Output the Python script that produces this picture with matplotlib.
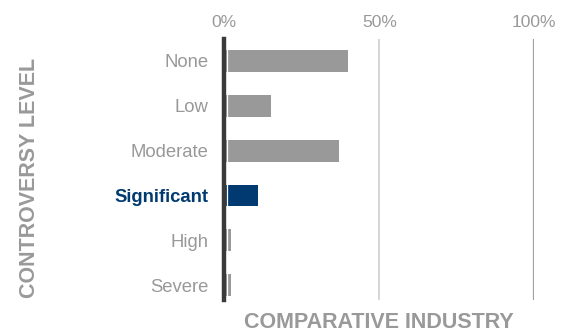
import matplotlib.pyplot as plt

plt.rcParams["font.family"] = ["Liberation Sans", "DejaVu Sans"]

# 数据
levels = ["None", "Low", "Moderate", "Significant", "High", "Severe"]
shares = [40, 15, 37, 11, 2, 2]
highlight = "Significant"
xticks = [0, 50, 100]
xtick_labels = ["0%", "50%", "100%"]

GRAY = "#999999"
NAVY = "#003a70"

fig = plt.figure(figsize=(5.72, 3.32), dpi=100)
ax = fig.add_axes([224.3 / 572, (332 - 300) / 332, 310 / 572, 261 / 332])

colors = [NAVY if lv == highlight else GRAY for lv in levels]
y = list(range(len(levels)))
ax.barh(y, shares, height=0.49, left=0, color=colors, zorder=2)

ax.set_xlim(0, 100)
ax.set_ylim(5.33, -0.49)

# 竖线
ax.axvline(50, color="#d0d0d0", lw=1.2, zorder=1)
ax.axvline(100, color="#a0a0a0", lw=1.6, zorder=1)
ax.axvline(0, color="#3a3a3a", lw=3.2, zorder=3, clip_on=False)
ax.axvline(0.75, color="white", lw=0.9, zorder=3)

for s in ax.spines.values():
    s.set_visible(False)

ax.xaxis.tick_top()
ax.set_xticks(xticks)
ax.set_xticklabels(xtick_labels, fontsize=12.6, color=GRAY)
ax.tick_params(axis="x", length=0, pad=6.5)

ax.set_yticks(y)
ax.set_yticklabels(levels, fontsize=13.3)
ax.tick_params(axis="y", length=0, pad=11.5)
for lbl in ax.get_yticklabels():
    if lbl.get_text() == highlight:
        lbl.set_color(NAVY)
        lbl.set_fontweight("bold")
    else:
        lbl.set_color(GRAY)

fig.text(30 / 572, 1 - 178 / 332, "CONTROVERSY LEVEL", rotation=90,
         ha="center", va="center", fontsize=15.5, fontweight="bold", color=GRAY)
fig.text(379 / 572, 1 - 322 / 332, "COMPARATIVE INDUSTRY",
         ha="center", va="center", fontsize=15.5, fontweight="bold", color=GRAY)

fig.savefig("out.png", dpi=100)
